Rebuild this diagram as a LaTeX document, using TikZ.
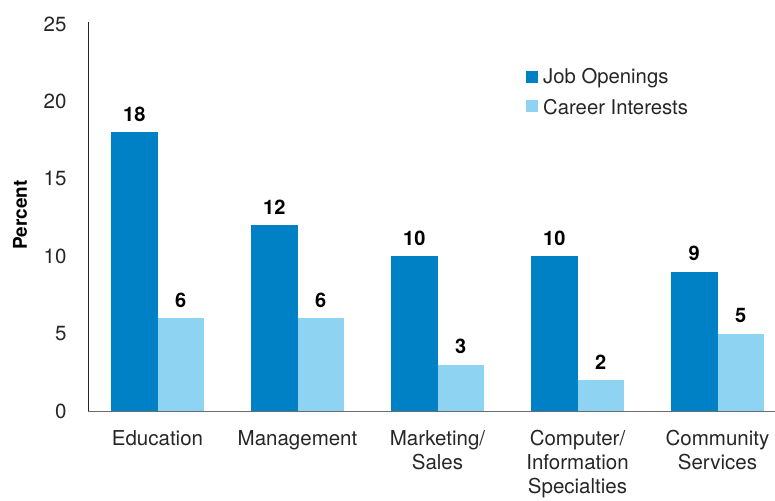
\documentclass[tikz,border=0pt]{standalone}
\usepackage{fontspec}
\setmainfont{TeX Gyre Heros}
\definecolor{darkbar}{HTML}{0081C6}
\definecolor{lightbar}{HTML}{8FD3F3}
\definecolor{axisgray}{HTML}{6B6B6B}
\begin{document}
\begin{tikzpicture}[x=1pt,y=-1pt,
  tick/.style={anchor=east,font=\fontsize{20.5}{24}\selectfont,text=black!85},
  val/.style={anchor=south,font=\bfseries\fontsize{20}{23}\selectfont,inner sep=0pt},
  cat/.style={anchor=north,align=center,font=\fontsize{20.5}{24}\selectfont,text=black!85,inner sep=0pt},
  leg/.style={anchor=west,font=\fontsize{20.3}{24}\selectfont,text=black!85,inner sep=0pt}]
\useasboundingbox (0,0) rectangle (775,500);
% bars: y0=411, 15.48 px per unit
\def\u{15.48}
\foreach \xx/\a/\b [count=\i] in {111/18/6,251/12/6,391/10/3,531/10/2,671/9/5}{
  \fill[darkbar] (\xx,411) rectangle ({\xx+46.5},{411-\a*\u});
  \fill[lightbar] ({\xx+46.5},411) rectangle ({\xx+93},{411-\b*\u});
  \node[val] (va\i) at ({\xx+23.25},{411-\a*\u-10.5}) {\a};
  \node[val] (vb\i) at ({\xx+69.75},{411-\b*\u-10.5}) {\b};
}
% axes
\draw[black!85,line width=1pt] (88,22) -- (88,411);
\draw[axisgray,line width=1pt] (88,411) -- (775,411);
% ticks
\foreach \v in {0,5,...,25}{
  \node[tick] (t\v) at (70,{411-\v*\u}) {\v};
}
\node[rotate=90,font=\bfseries\fontsize{19}{22}\selectfont] (ylab) at (20,215) {Percent};
% categories
\node[cat] (c1) at (157.5,430) {Education};
\node[cat] (c2) at (297.5,430) {Management};
\node[cat] (c3) at (437.5,430) {Marketing/\\Sales};
\node[cat] (c4) at (577.5,430) {Computer/\\Information\\Specialties};
\node[cat] (c5) at (717.5,430) {Community\\Services};
% legend
\fill[darkbar] (526,71) rectangle (538,83);
\node[leg] (l1) at (543,78.5) {Job Openings};
\fill[lightbar] (526,100) rectangle (538,112);
\node[leg] (l2) at (543,107.5) {Career Interests};
\end{tikzpicture}
\end{document}
